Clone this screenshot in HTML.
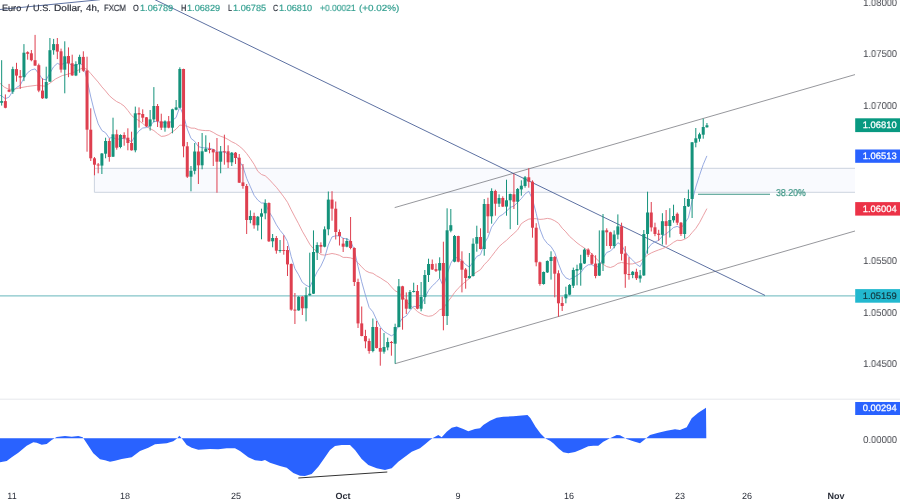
<!DOCTYPE html>
<html><head><meta charset="utf-8"><title>EURUSD</title>
<style>
html,body{margin:0;padding:0;background:#fff;}
body{width:900px;height:503px;position:relative;overflow:hidden;font-family:"Liberation Sans",sans-serif;}
svg{position:absolute;left:0;top:0;filter:blur(0.3px);}
.t,.ax,.pl,.dt,.fib{will-change:transform;text-rendering:geometricPrecision;}
.t{position:absolute;top:2.1px;-webkit-text-stroke:0.18px currentColor;transform-origin:0 0;font-size:9.0px;line-height:12px;color:#2c303b;white-space:nowrap;}
.t.v{color:#339f90;}

.ax{position:absolute;right:3.2px;font-size:10px;line-height:12px;height:12px;color:#42444b;text-align:right;margin-top:-4.7px;transform:scaleX(0.94);transform-origin:100% 50%;}
.pl{position:absolute;left:855px;width:45px;height:14px;margin-top:-7px;font-size:9.35px;line-height:13.6px;font-weight:normal;-webkit-text-stroke:0.25px currentColor;text-align:right;padding-right:3.4px;box-sizing:border-box;}
.pl span{display:inline-block;transform:scaleX(1);transform-origin:100% 50%;}
.dt{position:absolute;top:489.6px;width:40px;margin-left:-20px;text-align:center;font-size:9.0px;line-height:12px;color:#2a2e39;}
.dt.b{font-weight:bold;}
.fib{position:absolute;left:776.2px;top:188.2px;font-size:10px;line-height:12px;color:#35917f;transform:scaleX(0.876);transform-origin:0 0;-webkit-text-stroke:0.2px currentColor;}
</style></head><body>
<svg width="900" height="503" viewBox="0 0 900 503">
<rect x="94.4" y="168.3" width="760.6" height="24" fill="#f9fafe"/>
<path d="M855,168.3 H94.4 V192.3 H855" fill="none" stroke="#c6cfdb" stroke-width="0.9"/>
<line x1="0" y1="295.8" x2="855" y2="295.8" stroke="#84c5c9" stroke-width="1.2"/>
<line x1="394.7" y1="207.6" x2="855" y2="74.6" stroke="#5d5f66" stroke-width="0.65"/>
<line x1="395" y1="363.7" x2="855" y2="231" stroke="#5d5f66" stroke-width="0.65"/>
<line x1="150" y1="-2.7" x2="765" y2="295.4" stroke="#344d8a" stroke-width="0.8"/>
<line x1="0" y1="9.5" x2="100" y2="-0.3" stroke="#344d8a" stroke-width="0.8"/>
<line x1="698" y1="194.2" x2="770" y2="194.2" stroke="#3d9486" stroke-width="1.1"/>
<path d="M0.0,83.3 L4.4,87.2 L8.9,89.4 L14.4,89.1 L20.0,87.8 L27.8,86.4 L36.7,85.3 L44.4,86.1 L48.9,83.9 L55.6,78.9 L62.2,75.6 L68.9,73.9 L75.9,71.5 L79.6,69.4 L83.3,67.6 L87.0,69.4 L90.8,73.6 L94.5,77.9 L98.2,82.1 L101.9,86.9 L105.6,91.0 L109.3,95.6 L113.0,98.9 L116.7,101.6 L120.4,103.4 L124.2,106.1 L127.9,110.5 L131.6,115.5 L135.3,118.5 L139.0,120.6 L142.7,123.5 L146.4,126.5 L150.1,128.6 L153.9,130.6 L157.6,133.7 L161.3,136.4 L165.0,136.0 L168.7,134.6 L172.4,131.9 L176.1,129.1 L179.8,125.1 L183.6,125.4 L187.3,126.3 L191.0,128.1 L194.7,128.2 L198.4,129.7 L202.1,130.3 L205.8,130.6 L209.5,130.6 L213.2,132.4 L217.0,134.7 L220.7,136.3 L224.4,137.5 L228.1,139.5 L231.8,141.8 L235.5,143.5 L239.2,146.1 L242.9,149.2 L246.7,153.6 L250.4,158.7 L254.1,164.3 L257.8,171.3 L261.5,174.5 L265.2,175.8 L268.9,179.1 L272.6,183.2 L276.4,187.3 L280.1,192.0 L283.8,196.9 L287.5,202.3 L291.2,209.8 L294.9,216.9 L298.6,223.8 L302.3,231.2 L306.0,237.6 L309.8,244.3 L313.5,248.8 L317.2,251.7 L320.9,254.6 L324.6,255.1 L328.3,254.3 L332.0,253.5 L335.7,254.2 L339.5,255.3 L343.2,257.4 L346.9,257.4 L350.6,257.9 L354.3,259.3 L358.0,262.8 L361.7,266.9 L365.4,270.6 L369.2,272.5 L372.9,273.3 L376.6,275.8 L380.3,277.8 L384.0,280.3 L387.7,282.6 L391.4,286.9 L395.1,290.8 L398.8,292.7 L402.6,296.1 L406.3,301.3 L410.0,305.2 L413.7,308.0 L417.4,311.5 L421.1,313.9 L424.8,315.5 L428.5,316.3 L432.3,315.7 L436.0,313.2 L439.7,309.7 L443.4,308.5 L447.1,302.7 L450.8,297.9 L454.5,292.6 L458.2,288.3 L462.0,284.6 L465.7,281.5 L469.4,278.4 L473.1,274.4 L476.8,272.0 L480.5,269.6 L484.2,264.6 L487.9,261.0 L491.6,256.3 L495.4,251.3 L499.1,246.6 L502.8,243.3 L506.5,240.3 L510.2,236.7 L513.9,233.4 L517.6,229.9 L521.3,223.7 L525.1,221.1 L528.8,219.1 L532.5,218.7 L536.2,218.7 L539.9,219.4 L543.6,219.1 L547.3,218.4 L551.0,219.0 L554.8,220.8 L558.5,223.3 L562.2,228.2 L565.9,231.9 L569.6,236.4 L573.3,239.6 L577.0,242.9 L580.7,245.6 L584.4,248.0 L588.2,250.9 L591.9,253.8 L595.6,258.0 L599.3,261.7 L603.0,264.2 L606.7,266.6 L610.4,267.5 L614.1,266.2 L617.9,263.4 L621.6,262.5 L625.3,263.2 L629.0,264.0 L632.7,263.9 L636.4,262.7 L640.1,261.3 L643.8,258.4 L647.6,255.0 L651.3,252.9 L655.0,251.3 L658.7,249.9 L662.4,248.6 L666.1,247.2 L669.8,245.1 L673.5,242.3 L677.2,240.3 L681.0,240.5 L684.7,239.2 L688.4,237.0 L692.1,232.6 L695.8,228.4 L699.5,222.7 L703.2,215.7 L706.9,208.6" fill="none" stroke="#e8959b" stroke-width="0.9" stroke-linejoin="round"/>
<path d="M-1.0,94.9 L1.7,96.0 L5.4,98.7 L9.1,97.1 L12.8,90.9 L16.5,87.5 L20.2,85.3 L23.9,78.0 L27.6,72.7 L31.4,69.9 L35.1,68.9 L38.8,73.8 L42.5,79.2 L46.2,79.8 L49.9,73.2 L53.6,66.8 L57.3,63.4 L61.1,64.8 L64.8,62.9 L68.5,63.0 L72.2,65.7 L75.9,65.4 L79.6,63.5 L83.3,65.1 L87.0,79.5 L90.8,97.0 L94.5,112.0 L98.2,123.9 L101.9,130.5 L105.6,132.8 L109.3,138.2 L113.0,137.3 L116.7,139.6 L120.4,138.6 L124.2,138.5 L127.9,139.5 L131.6,141.9 L135.3,135.6 L139.0,130.9 L142.7,128.0 L146.4,127.6 L150.1,125.8 L153.9,121.4 L157.6,121.4 L161.3,122.8 L165.0,122.4 L168.7,123.6 L172.4,120.4 L176.1,117.5 L179.8,106.8 L183.6,115.5 L187.3,129.1 L191.0,138.4 L194.7,141.3 L198.4,146.6 L202.1,147.7 L205.8,147.9 L209.5,148.4 L213.2,149.3 L217.0,152.0 L220.7,151.9 L224.4,151.9 L228.1,154.2 L231.8,153.9 L235.5,154.8 L239.2,161.0 L242.9,166.6 L246.7,178.4 L250.4,186.8 L254.1,195.3 L257.8,200.1 L261.5,203.0 L265.2,203.0 L268.9,211.5 L272.6,217.4 L276.4,224.8 L280.1,230.4 L283.8,234.9 L287.5,241.5 L291.2,256.6 L294.9,268.6 L298.6,274.8 L302.3,282.3 L306.0,285.2 L309.8,287.1 L313.5,279.3 L317.2,271.7 L320.9,266.1 L324.6,257.9 L328.3,245.0 L332.0,236.9 L335.7,235.8 L339.5,235.9 L343.2,238.3 L346.9,238.9 L350.6,240.9 L354.3,250.0 L358.0,266.3 L361.7,281.8 L365.4,295.0 L369.2,307.5 L372.9,311.8 L376.6,319.9 L380.3,326.9 L384.0,331.4 L387.7,333.7 L391.4,335.8 L395.1,333.8 L398.8,323.3 L402.6,318.0 L406.3,315.9 L410.0,310.6 L413.7,306.3 L417.4,306.8 L421.1,304.6 L424.8,298.0 L428.5,290.5 L432.3,285.8 L436.0,282.5 L439.7,278.2 L443.4,286.6 L447.1,274.1 L450.8,263.2 L454.5,257.2 L458.2,258.2 L462.0,260.7 L465.7,264.6 L469.4,267.1 L473.1,261.9 L476.8,256.4 L480.5,254.7 L484.2,243.5 L487.9,237.4 L491.6,227.1 L495.4,221.9 L499.1,216.6 L502.8,214.4 L506.5,211.2 L510.2,207.4 L513.9,206.1 L517.6,202.3 L521.3,198.6 L525.1,193.9 L528.8,191.2 L532.5,199.3 L536.2,213.3 L539.9,229.0 L543.6,238.6 L547.3,243.5 L551.0,246.5 L554.8,252.6 L558.5,263.8 L562.2,273.2 L565.9,277.9 L569.6,279.5 L573.3,277.4 L577.0,275.5 L580.7,272.8 L584.4,267.6 L588.2,264.8 L591.9,264.6 L595.6,267.1 L599.3,266.3 L603.0,258.3 L606.7,252.5 L610.4,251.1 L614.1,247.4 L617.9,242.7 L621.6,245.2 L625.3,251.6 L629.0,256.8 L632.7,260.2 L636.4,264.2 L640.1,266.7 L643.8,259.4 L647.6,249.0 L651.3,244.2 L655.0,241.9 L658.7,240.4 L662.4,236.1 L666.1,233.9 L669.8,230.8 L673.5,227.5 L677.2,226.4 L681.0,228.1 L684.7,223.2 L688.4,217.8 L692.1,201.0 L695.8,187.1 L699.5,175.4 L703.2,164.6 L706.9,155.9" fill="none" stroke="#8ca1de" stroke-width="0.9" stroke-linejoin="round"/>
<line x1="1.66" y1="60.2" x2="1.66" y2="105.6" stroke="#14927b" stroke-width="1"/>
<rect x="0.16" y="101.1" width="3" height="1.7" fill="#14927b"/>
<line x1="5.38" y1="94.4" x2="5.38" y2="108.3" stroke="#de3f4f" stroke-width="1"/>
<rect x="3.88" y="101.1" width="3" height="6.7" fill="#de3f4f"/>
<line x1="9.09" y1="83.9" x2="9.09" y2="92.2" stroke="#de3f4f" stroke-width="1"/>
<rect x="7.59" y="90.0" width="3" height="1.7" fill="#de3f4f"/>
<line x1="12.80" y1="66.7" x2="12.80" y2="93.9" stroke="#14927b" stroke-width="1"/>
<rect x="11.30" y="69.1" width="3" height="22.6" fill="#14927b"/>
<line x1="16.51" y1="62.8" x2="16.51" y2="81.7" stroke="#de3f4f" stroke-width="1"/>
<rect x="15.01" y="69.1" width="3" height="6.5" fill="#de3f4f"/>
<line x1="20.22" y1="70.0" x2="20.22" y2="88.9" stroke="#de3f4f" stroke-width="1"/>
<rect x="18.72" y="76.1" width="3" height="1.5" fill="#de3f4f"/>
<line x1="23.94" y1="44.1" x2="23.94" y2="81.1" stroke="#14927b" stroke-width="1"/>
<rect x="22.44" y="52.7" width="3" height="24.5" fill="#14927b"/>
<line x1="27.65" y1="51.3" x2="27.65" y2="59.7" stroke="#de3f4f" stroke-width="1"/>
<rect x="26.15" y="52.2" width="3" height="1.6" fill="#de3f4f"/>
<line x1="31.36" y1="50.0" x2="31.36" y2="61.3" stroke="#de3f4f" stroke-width="1"/>
<rect x="29.86" y="53.3" width="3" height="6.9" fill="#de3f4f"/>
<line x1="35.07" y1="34.9" x2="35.07" y2="65.8" stroke="#de3f4f" stroke-width="1"/>
<rect x="33.57" y="60.2" width="3" height="5.4" fill="#de3f4f"/>
<line x1="38.78" y1="63.6" x2="38.78" y2="92.2" stroke="#de3f4f" stroke-width="1"/>
<rect x="37.28" y="65.2" width="3" height="25.4" fill="#de3f4f"/>
<line x1="42.50" y1="78.3" x2="42.50" y2="98.9" stroke="#de3f4f" stroke-width="1"/>
<rect x="41.00" y="90.6" width="3" height="7.7" fill="#de3f4f"/>
<line x1="46.21" y1="66.7" x2="46.21" y2="98.9" stroke="#14927b" stroke-width="1"/>
<rect x="44.71" y="82.0" width="3" height="16.3" fill="#14927b"/>
<line x1="49.92" y1="38.0" x2="49.92" y2="81.7" stroke="#14927b" stroke-width="1"/>
<rect x="48.42" y="50.2" width="3" height="31.5" fill="#14927b"/>
<line x1="53.63" y1="38.9" x2="53.63" y2="54.7" stroke="#14927b" stroke-width="1"/>
<rect x="52.13" y="44.1" width="3" height="6.1" fill="#14927b"/>
<line x1="57.34" y1="38.0" x2="57.34" y2="59.1" stroke="#de3f4f" stroke-width="1"/>
<rect x="55.84" y="44.1" width="3" height="7.5" fill="#de3f4f"/>
<line x1="61.06" y1="48.6" x2="61.06" y2="72.6" stroke="#de3f4f" stroke-width="1"/>
<rect x="59.56" y="51.3" width="3" height="18.3" fill="#de3f4f"/>
<line x1="64.77" y1="41.3" x2="64.77" y2="93.3" stroke="#14927b" stroke-width="1"/>
<rect x="63.27" y="56.3" width="3" height="13.4" fill="#14927b"/>
<line x1="68.48" y1="47.4" x2="68.48" y2="77.2" stroke="#de3f4f" stroke-width="1"/>
<rect x="66.98" y="56.0" width="3" height="7.3" fill="#de3f4f"/>
<line x1="72.19" y1="54.7" x2="72.19" y2="75.8" stroke="#de3f4f" stroke-width="1"/>
<rect x="70.69" y="63.3" width="3" height="12.1" fill="#de3f4f"/>
<line x1="75.90" y1="61.3" x2="75.90" y2="76.1" stroke="#14927b" stroke-width="1"/>
<rect x="74.40" y="64.1" width="3" height="11.4" fill="#14927b"/>
<line x1="79.62" y1="54.7" x2="79.62" y2="72.8" stroke="#14927b" stroke-width="1"/>
<rect x="78.12" y="56.9" width="3" height="7.2" fill="#14927b"/>
<line x1="83.33" y1="51.3" x2="83.33" y2="71.9" stroke="#de3f4f" stroke-width="1"/>
<rect x="81.83" y="56.9" width="3" height="13.8" fill="#de3f4f"/>
<line x1="87.04" y1="56.7" x2="87.04" y2="151.7" stroke="#de3f4f" stroke-width="1"/>
<rect x="85.54" y="70.5" width="3" height="59.2" fill="#de3f4f"/>
<line x1="90.75" y1="108.3" x2="90.75" y2="161.0" stroke="#de3f4f" stroke-width="1"/>
<rect x="89.25" y="129.7" width="3" height="28.6" fill="#de3f4f"/>
<line x1="94.46" y1="157.0" x2="94.46" y2="175.3" stroke="#de3f4f" stroke-width="1"/>
<rect x="92.96" y="158.3" width="3" height="6.4" fill="#de3f4f"/>
<line x1="98.18" y1="163.0" x2="98.18" y2="173.3" stroke="#de3f4f" stroke-width="1"/>
<rect x="96.68" y="164.5" width="3" height="1.0" fill="#de3f4f"/>
<line x1="101.89" y1="153.0" x2="101.89" y2="174.0" stroke="#14927b" stroke-width="1"/>
<rect x="100.39" y="153.5" width="3" height="12.1" fill="#14927b"/>
<line x1="105.60" y1="137.7" x2="105.60" y2="158.3" stroke="#14927b" stroke-width="1"/>
<rect x="104.10" y="141.0" width="3" height="12.7" fill="#14927b"/>
<line x1="109.31" y1="138.3" x2="109.31" y2="161.7" stroke="#de3f4f" stroke-width="1"/>
<rect x="107.81" y="141.0" width="3" height="16.0" fill="#de3f4f"/>
<line x1="113.02" y1="117.7" x2="113.02" y2="157.0" stroke="#14927b" stroke-width="1"/>
<rect x="111.52" y="134.3" width="3" height="22.4" fill="#14927b"/>
<line x1="116.74" y1="129.7" x2="116.74" y2="149.7" stroke="#de3f4f" stroke-width="1"/>
<rect x="115.24" y="134.3" width="3" height="13.4" fill="#de3f4f"/>
<line x1="120.45" y1="134.3" x2="120.45" y2="148.3" stroke="#14927b" stroke-width="1"/>
<rect x="118.95" y="135.0" width="3" height="12.0" fill="#14927b"/>
<line x1="124.16" y1="132.3" x2="124.16" y2="145.7" stroke="#de3f4f" stroke-width="1"/>
<rect x="122.66" y="135.0" width="3" height="3.3" fill="#de3f4f"/>
<line x1="127.87" y1="128.3" x2="127.87" y2="150.3" stroke="#de3f4f" stroke-width="1"/>
<rect x="126.37" y="137.7" width="3" height="5.3" fill="#de3f4f"/>
<line x1="131.58" y1="131.7" x2="131.58" y2="150.6" stroke="#de3f4f" stroke-width="1"/>
<rect x="130.08" y="143.0" width="3" height="7.3" fill="#de3f4f"/>
<line x1="135.30" y1="106.6" x2="135.30" y2="152.3" stroke="#14927b" stroke-width="1"/>
<rect x="133.80" y="113.3" width="3" height="37.0" fill="#14927b"/>
<line x1="139.01" y1="107.4" x2="139.01" y2="127.7" stroke="#de3f4f" stroke-width="1"/>
<rect x="137.51" y="113.0" width="3" height="1.6" fill="#de3f4f"/>
<line x1="142.72" y1="109.3" x2="142.72" y2="122.3" stroke="#de3f4f" stroke-width="1"/>
<rect x="141.22" y="114.0" width="3" height="3.7" fill="#de3f4f"/>
<line x1="146.43" y1="117.0" x2="146.43" y2="127.0" stroke="#de3f4f" stroke-width="1"/>
<rect x="144.93" y="117.3" width="3" height="9.0" fill="#de3f4f"/>
<line x1="150.14" y1="110.0" x2="150.14" y2="130.6" stroke="#14927b" stroke-width="1"/>
<rect x="148.64" y="119.4" width="3" height="6.9" fill="#14927b"/>
<line x1="153.86" y1="87.1" x2="153.86" y2="122.3" stroke="#14927b" stroke-width="1"/>
<rect x="152.36" y="106.0" width="3" height="13.4" fill="#14927b"/>
<line x1="157.57" y1="104.0" x2="157.57" y2="127.0" stroke="#de3f4f" stroke-width="1"/>
<rect x="156.07" y="106.0" width="3" height="15.3" fill="#de3f4f"/>
<line x1="161.28" y1="113.7" x2="161.28" y2="130.0" stroke="#de3f4f" stroke-width="1"/>
<rect x="159.78" y="121.3" width="3" height="6.4" fill="#de3f4f"/>
<line x1="164.99" y1="120.3" x2="164.99" y2="131.7" stroke="#14927b" stroke-width="1"/>
<rect x="163.49" y="121.3" width="3" height="6.4" fill="#14927b"/>
<line x1="168.70" y1="116.0" x2="168.70" y2="128.3" stroke="#de3f4f" stroke-width="1"/>
<rect x="167.20" y="121.3" width="3" height="6.4" fill="#de3f4f"/>
<line x1="172.42" y1="108.7" x2="172.42" y2="133.3" stroke="#14927b" stroke-width="1"/>
<rect x="170.92" y="109.3" width="3" height="18.4" fill="#14927b"/>
<line x1="176.13" y1="100.0" x2="176.13" y2="110.3" stroke="#14927b" stroke-width="1"/>
<rect x="174.63" y="107.4" width="3" height="2.3" fill="#14927b"/>
<line x1="179.84" y1="67.3" x2="179.84" y2="108.0" stroke="#14927b" stroke-width="1"/>
<rect x="178.34" y="69.0" width="3" height="38.7" fill="#14927b"/>
<line x1="183.55" y1="68.7" x2="183.55" y2="157.3" stroke="#de3f4f" stroke-width="1"/>
<rect x="182.05" y="69.0" width="3" height="77.3" fill="#de3f4f"/>
<line x1="187.26" y1="142.0" x2="187.26" y2="178.0" stroke="#de3f4f" stroke-width="1"/>
<rect x="185.76" y="146.3" width="3" height="30.4" fill="#de3f4f"/>
<line x1="190.98" y1="166.0" x2="190.98" y2="191.3" stroke="#14927b" stroke-width="1"/>
<rect x="189.48" y="170.8" width="3" height="5.9" fill="#14927b"/>
<line x1="194.69" y1="143.0" x2="194.69" y2="174.3" stroke="#14927b" stroke-width="1"/>
<rect x="193.19" y="151.5" width="3" height="19.3" fill="#14927b"/>
<line x1="198.40" y1="142.0" x2="198.40" y2="184.0" stroke="#de3f4f" stroke-width="1"/>
<rect x="196.90" y="151.5" width="3" height="13.8" fill="#de3f4f"/>
<line x1="202.11" y1="133.0" x2="202.11" y2="169.3" stroke="#14927b" stroke-width="1"/>
<rect x="200.61" y="151.3" width="3" height="14.0" fill="#14927b"/>
<line x1="205.82" y1="135.3" x2="205.82" y2="152.0" stroke="#14927b" stroke-width="1"/>
<rect x="204.32" y="148.7" width="3" height="2.9" fill="#14927b"/>
<line x1="209.54" y1="142.7" x2="209.54" y2="153.3" stroke="#de3f4f" stroke-width="1"/>
<rect x="208.04" y="148.7" width="3" height="1.3" fill="#de3f4f"/>
<line x1="213.25" y1="148.9" x2="213.25" y2="166.0" stroke="#de3f4f" stroke-width="1"/>
<rect x="211.75" y="149.3" width="3" height="3.1" fill="#de3f4f"/>
<line x1="216.96" y1="138.0" x2="216.96" y2="192.7" stroke="#de3f4f" stroke-width="1"/>
<rect x="215.46" y="152.0" width="3" height="9.7" fill="#de3f4f"/>
<line x1="220.67" y1="146.0" x2="220.67" y2="173.3" stroke="#14927b" stroke-width="1"/>
<rect x="219.17" y="151.6" width="3" height="10.1" fill="#14927b"/>
<line x1="224.38" y1="134.7" x2="224.38" y2="164.7" stroke="#de3f4f" stroke-width="1"/>
<rect x="222.88" y="151.3" width="3" height="1.0" fill="#de3f4f"/>
<line x1="228.10" y1="145.3" x2="228.10" y2="168.0" stroke="#de3f4f" stroke-width="1"/>
<rect x="226.60" y="151.3" width="3" height="11.0" fill="#de3f4f"/>
<line x1="231.81" y1="152.0" x2="231.81" y2="166.0" stroke="#14927b" stroke-width="1"/>
<rect x="230.31" y="152.7" width="3" height="9.6" fill="#14927b"/>
<line x1="235.52" y1="152.0" x2="235.52" y2="164.0" stroke="#de3f4f" stroke-width="1"/>
<rect x="234.02" y="152.7" width="3" height="5.3" fill="#de3f4f"/>
<line x1="239.23" y1="154.0" x2="239.23" y2="183.0" stroke="#de3f4f" stroke-width="1"/>
<rect x="237.73" y="157.7" width="3" height="25.0" fill="#de3f4f"/>
<line x1="242.94" y1="164.0" x2="242.94" y2="188.7" stroke="#de3f4f" stroke-width="1"/>
<rect x="241.44" y="182.4" width="3" height="3.6" fill="#de3f4f"/>
<line x1="246.66" y1="184.0" x2="246.66" y2="234.0" stroke="#de3f4f" stroke-width="1"/>
<rect x="245.16" y="186.0" width="3" height="34.0" fill="#de3f4f"/>
<line x1="250.37" y1="210.4" x2="250.37" y2="223.3" stroke="#14927b" stroke-width="1"/>
<rect x="248.87" y="216.0" width="3" height="4.0" fill="#14927b"/>
<line x1="254.08" y1="212.7" x2="254.08" y2="228.7" stroke="#de3f4f" stroke-width="1"/>
<rect x="252.58" y="216.0" width="3" height="9.3" fill="#de3f4f"/>
<line x1="257.79" y1="216.0" x2="257.79" y2="230.7" stroke="#14927b" stroke-width="1"/>
<rect x="256.29" y="216.7" width="3" height="8.6" fill="#14927b"/>
<line x1="261.50" y1="208.7" x2="261.50" y2="239.3" stroke="#14927b" stroke-width="1"/>
<rect x="260.00" y="213.3" width="3" height="3.4" fill="#14927b"/>
<line x1="265.22" y1="199.3" x2="265.22" y2="219.3" stroke="#14927b" stroke-width="1"/>
<rect x="263.72" y="203.0" width="3" height="10.3" fill="#14927b"/>
<line x1="268.93" y1="202.4" x2="268.93" y2="242.0" stroke="#de3f4f" stroke-width="1"/>
<rect x="267.43" y="203.0" width="3" height="38.3" fill="#de3f4f"/>
<line x1="272.64" y1="234.0" x2="272.64" y2="247.3" stroke="#14927b" stroke-width="1"/>
<rect x="271.14" y="238.0" width="3" height="3.3" fill="#14927b"/>
<line x1="276.35" y1="236.0" x2="276.35" y2="253.7" stroke="#de3f4f" stroke-width="1"/>
<rect x="274.85" y="238.0" width="3" height="12.7" fill="#de3f4f"/>
<line x1="280.06" y1="240.0" x2="280.06" y2="252.7" stroke="#14927b" stroke-width="1"/>
<rect x="278.56" y="250.0" width="3" height="1.0" fill="#14927b"/>
<line x1="283.78" y1="235.3" x2="283.78" y2="254.7" stroke="#de3f4f" stroke-width="1"/>
<rect x="282.28" y="250.0" width="3" height="1.0" fill="#de3f4f"/>
<line x1="287.49" y1="246.0" x2="287.49" y2="276.0" stroke="#de3f4f" stroke-width="1"/>
<rect x="285.99" y="250.0" width="3" height="14.4" fill="#de3f4f"/>
<line x1="291.20" y1="263.5" x2="291.20" y2="310.7" stroke="#de3f4f" stroke-width="1"/>
<rect x="289.70" y="264.0" width="3" height="45.6" fill="#de3f4f"/>
<line x1="294.91" y1="293.0" x2="294.91" y2="324.0" stroke="#de3f4f" stroke-width="1"/>
<rect x="293.41" y="309.6" width="3" height="1.0" fill="#de3f4f"/>
<line x1="298.62" y1="296.3" x2="298.62" y2="310.7" stroke="#14927b" stroke-width="1"/>
<rect x="297.12" y="296.7" width="3" height="13.7" fill="#14927b"/>
<line x1="302.34" y1="296.0" x2="302.34" y2="315.0" stroke="#de3f4f" stroke-width="1"/>
<rect x="300.84" y="296.7" width="3" height="11.6" fill="#de3f4f"/>
<line x1="306.05" y1="287.3" x2="306.05" y2="321.3" stroke="#14927b" stroke-width="1"/>
<rect x="304.55" y="295.3" width="3" height="13.0" fill="#14927b"/>
<line x1="309.76" y1="252.7" x2="309.76" y2="295.7" stroke="#14927b" stroke-width="1"/>
<rect x="308.26" y="293.7" width="3" height="1.6" fill="#14927b"/>
<line x1="313.47" y1="230.4" x2="313.47" y2="294.0" stroke="#14927b" stroke-width="1"/>
<rect x="311.97" y="252.0" width="3" height="41.7" fill="#14927b"/>
<line x1="317.18" y1="242.3" x2="317.18" y2="260.0" stroke="#14927b" stroke-width="1"/>
<rect x="315.68" y="245.0" width="3" height="7.7" fill="#14927b"/>
<line x1="320.90" y1="242.3" x2="320.90" y2="253.3" stroke="#de3f4f" stroke-width="1"/>
<rect x="319.40" y="245.0" width="3" height="1.7" fill="#de3f4f"/>
<line x1="324.61" y1="226.4" x2="324.61" y2="247.3" stroke="#14927b" stroke-width="1"/>
<rect x="323.11" y="229.3" width="3" height="17.4" fill="#14927b"/>
<line x1="328.32" y1="191.5" x2="328.32" y2="235.3" stroke="#14927b" stroke-width="1"/>
<rect x="326.82" y="199.6" width="3" height="29.7" fill="#14927b"/>
<line x1="332.03" y1="191.2" x2="332.03" y2="220.7" stroke="#de3f4f" stroke-width="1"/>
<rect x="330.53" y="199.6" width="3" height="9.1" fill="#de3f4f"/>
<line x1="335.74" y1="201.5" x2="335.74" y2="239.5" stroke="#de3f4f" stroke-width="1"/>
<rect x="334.24" y="208.7" width="3" height="23.3" fill="#de3f4f"/>
<line x1="339.46" y1="229.5" x2="339.46" y2="245.5" stroke="#de3f4f" stroke-width="1"/>
<rect x="337.96" y="232.0" width="3" height="4.0" fill="#de3f4f"/>
<line x1="343.17" y1="238.0" x2="343.17" y2="252.0" stroke="#de3f4f" stroke-width="1"/>
<rect x="341.67" y="243.6" width="3" height="3.1" fill="#de3f4f"/>
<line x1="346.88" y1="238.3" x2="346.88" y2="247.3" stroke="#14927b" stroke-width="1"/>
<rect x="345.38" y="241.0" width="3" height="5.7" fill="#14927b"/>
<line x1="350.59" y1="217.0" x2="350.59" y2="249.3" stroke="#de3f4f" stroke-width="1"/>
<rect x="349.09" y="241.0" width="3" height="7.0" fill="#de3f4f"/>
<line x1="354.30" y1="247.3" x2="354.30" y2="286.0" stroke="#de3f4f" stroke-width="1"/>
<rect x="352.80" y="248.0" width="3" height="34.0" fill="#de3f4f"/>
<line x1="358.02" y1="278.7" x2="358.02" y2="328.0" stroke="#de3f4f" stroke-width="1"/>
<rect x="356.52" y="282.0" width="3" height="41.4" fill="#de3f4f"/>
<line x1="361.73" y1="306.5" x2="361.73" y2="336.3" stroke="#de3f4f" stroke-width="1"/>
<rect x="360.23" y="323.4" width="3" height="12.6" fill="#de3f4f"/>
<line x1="365.44" y1="329.8" x2="365.44" y2="348.3" stroke="#de3f4f" stroke-width="1"/>
<rect x="363.94" y="336.0" width="3" height="5.3" fill="#de3f4f"/>
<line x1="369.15" y1="338.5" x2="369.15" y2="353.7" stroke="#de3f4f" stroke-width="1"/>
<rect x="367.65" y="341.0" width="3" height="10.0" fill="#de3f4f"/>
<line x1="372.86" y1="318.5" x2="372.86" y2="352.3" stroke="#14927b" stroke-width="1"/>
<rect x="371.36" y="327.0" width="3" height="24.0" fill="#14927b"/>
<line x1="376.58" y1="321.0" x2="376.58" y2="348.5" stroke="#de3f4f" stroke-width="1"/>
<rect x="375.08" y="327.0" width="3" height="21.0" fill="#de3f4f"/>
<line x1="380.29" y1="328.0" x2="380.29" y2="365.7" stroke="#de3f4f" stroke-width="1"/>
<rect x="378.79" y="348.0" width="3" height="3.7" fill="#de3f4f"/>
<line x1="384.00" y1="333.0" x2="384.00" y2="353.7" stroke="#14927b" stroke-width="1"/>
<rect x="382.50" y="347.0" width="3" height="4.7" fill="#14927b"/>
<line x1="387.71" y1="337.7" x2="387.71" y2="350.3" stroke="#14927b" stroke-width="1"/>
<rect x="386.21" y="342.0" width="3" height="5.4" fill="#14927b"/>
<line x1="391.42" y1="341.0" x2="391.42" y2="355.7" stroke="#de3f4f" stroke-width="1"/>
<rect x="389.92" y="342.0" width="3" height="1.0" fill="#de3f4f"/>
<line x1="395.14" y1="323.7" x2="395.14" y2="363.7" stroke="#14927b" stroke-width="1"/>
<rect x="393.64" y="327.0" width="3" height="16.7" fill="#14927b"/>
<line x1="398.85" y1="279.0" x2="398.85" y2="327.5" stroke="#14927b" stroke-width="1"/>
<rect x="397.35" y="286.3" width="3" height="40.7" fill="#14927b"/>
<line x1="402.56" y1="285.8" x2="402.56" y2="329.7" stroke="#de3f4f" stroke-width="1"/>
<rect x="401.06" y="286.3" width="3" height="13.3" fill="#de3f4f"/>
<line x1="406.27" y1="292.4" x2="406.27" y2="314.0" stroke="#de3f4f" stroke-width="1"/>
<rect x="404.77" y="299.6" width="3" height="9.1" fill="#de3f4f"/>
<line x1="409.98" y1="290.0" x2="409.98" y2="309.3" stroke="#14927b" stroke-width="1"/>
<rect x="408.48" y="292.0" width="3" height="16.7" fill="#14927b"/>
<line x1="413.70" y1="282.7" x2="413.70" y2="292.5" stroke="#14927b" stroke-width="1"/>
<rect x="412.20" y="291.0" width="3" height="1.0" fill="#14927b"/>
<line x1="417.41" y1="285.0" x2="417.41" y2="309.3" stroke="#de3f4f" stroke-width="1"/>
<rect x="415.91" y="291.0" width="3" height="17.7" fill="#de3f4f"/>
<line x1="421.12" y1="282.0" x2="421.12" y2="311.3" stroke="#14927b" stroke-width="1"/>
<rect x="419.62" y="297.0" width="3" height="11.7" fill="#14927b"/>
<line x1="424.83" y1="270.0" x2="424.83" y2="304.0" stroke="#14927b" stroke-width="1"/>
<rect x="423.33" y="275.0" width="3" height="22.0" fill="#14927b"/>
<line x1="428.54" y1="258.7" x2="428.54" y2="282.0" stroke="#14927b" stroke-width="1"/>
<rect x="427.04" y="264.0" width="3" height="11.0" fill="#14927b"/>
<line x1="432.26" y1="259.5" x2="432.26" y2="270.0" stroke="#de3f4f" stroke-width="1"/>
<rect x="430.76" y="264.0" width="3" height="5.5" fill="#de3f4f"/>
<line x1="435.97" y1="263.5" x2="435.97" y2="272.0" stroke="#de3f4f" stroke-width="1"/>
<rect x="434.47" y="269.2" width="3" height="1.6" fill="#de3f4f"/>
<line x1="439.68" y1="257.3" x2="439.68" y2="278.5" stroke="#14927b" stroke-width="1"/>
<rect x="438.18" y="263.0" width="3" height="7.5" fill="#14927b"/>
<line x1="443.39" y1="241.7" x2="443.39" y2="330.3" stroke="#de3f4f" stroke-width="1"/>
<rect x="441.89" y="263.0" width="3" height="53.0" fill="#de3f4f"/>
<line x1="447.10" y1="208.3" x2="447.10" y2="325.0" stroke="#14927b" stroke-width="1"/>
<rect x="445.60" y="230.3" width="3" height="85.7" fill="#14927b"/>
<line x1="450.82" y1="209.0" x2="450.82" y2="232.3" stroke="#14927b" stroke-width="1"/>
<rect x="449.32" y="225.2" width="3" height="5.5" fill="#14927b"/>
<line x1="454.53" y1="235.0" x2="454.53" y2="262.3" stroke="#14927b" stroke-width="1"/>
<rect x="453.03" y="236.0" width="3" height="25.7" fill="#14927b"/>
<line x1="458.24" y1="235.7" x2="458.24" y2="262.3" stroke="#de3f4f" stroke-width="1"/>
<rect x="456.74" y="236.0" width="3" height="25.7" fill="#de3f4f"/>
<line x1="461.95" y1="251.3" x2="461.95" y2="292.4" stroke="#de3f4f" stroke-width="1"/>
<rect x="460.45" y="260.7" width="3" height="9.0" fill="#de3f4f"/>
<line x1="465.66" y1="268.0" x2="465.66" y2="288.7" stroke="#de3f4f" stroke-width="1"/>
<rect x="464.16" y="269.5" width="3" height="8.5" fill="#de3f4f"/>
<line x1="469.38" y1="253.0" x2="469.38" y2="278.6" stroke="#14927b" stroke-width="1"/>
<rect x="467.88" y="276.0" width="3" height="2.2" fill="#14927b"/>
<line x1="473.09" y1="238.3" x2="473.09" y2="276.6" stroke="#14927b" stroke-width="1"/>
<rect x="471.59" y="243.7" width="3" height="32.3" fill="#14927b"/>
<line x1="476.80" y1="225.7" x2="476.80" y2="251.7" stroke="#14927b" stroke-width="1"/>
<rect x="475.30" y="237.0" width="3" height="6.7" fill="#14927b"/>
<line x1="480.51" y1="228.3" x2="480.51" y2="249.4" stroke="#de3f4f" stroke-width="1"/>
<rect x="479.01" y="237.0" width="3" height="12.0" fill="#de3f4f"/>
<line x1="484.22" y1="199.0" x2="484.22" y2="255.7" stroke="#14927b" stroke-width="1"/>
<rect x="482.72" y="204.0" width="3" height="45.0" fill="#14927b"/>
<line x1="487.94" y1="197.7" x2="487.94" y2="233.0" stroke="#de3f4f" stroke-width="1"/>
<rect x="486.44" y="204.0" width="3" height="12.3" fill="#de3f4f"/>
<line x1="491.65" y1="188.3" x2="491.65" y2="223.7" stroke="#14927b" stroke-width="1"/>
<rect x="490.15" y="191.0" width="3" height="25.3" fill="#14927b"/>
<line x1="495.36" y1="189.7" x2="495.36" y2="215.7" stroke="#de3f4f" stroke-width="1"/>
<rect x="493.86" y="191.0" width="3" height="12.7" fill="#de3f4f"/>
<line x1="499.07" y1="194.3" x2="499.07" y2="207.0" stroke="#14927b" stroke-width="1"/>
<rect x="497.57" y="198.0" width="3" height="5.7" fill="#14927b"/>
<line x1="502.78" y1="196.3" x2="502.78" y2="207.0" stroke="#de3f4f" stroke-width="1"/>
<rect x="501.28" y="198.0" width="3" height="8.6" fill="#de3f4f"/>
<line x1="506.50" y1="179.7" x2="506.50" y2="215.7" stroke="#14927b" stroke-width="1"/>
<rect x="505.00" y="200.3" width="3" height="6.3" fill="#14927b"/>
<line x1="510.21" y1="193.6" x2="510.21" y2="229.2" stroke="#14927b" stroke-width="1"/>
<rect x="508.71" y="194.0" width="3" height="6.3" fill="#14927b"/>
<line x1="513.92" y1="173.7" x2="513.92" y2="209.0" stroke="#de3f4f" stroke-width="1"/>
<rect x="512.42" y="194.3" width="3" height="7.4" fill="#de3f4f"/>
<line x1="517.63" y1="188.0" x2="517.63" y2="225.0" stroke="#14927b" stroke-width="1"/>
<rect x="516.13" y="189.0" width="3" height="12.7" fill="#14927b"/>
<line x1="521.34" y1="180.3" x2="521.34" y2="195.7" stroke="#14927b" stroke-width="1"/>
<rect x="519.84" y="185.7" width="3" height="3.7" fill="#14927b"/>
<line x1="525.06" y1="176.0" x2="525.06" y2="187.7" stroke="#14927b" stroke-width="1"/>
<rect x="523.56" y="177.3" width="3" height="8.7" fill="#14927b"/>
<line x1="528.77" y1="168.3" x2="528.77" y2="187.7" stroke="#de3f4f" stroke-width="1"/>
<rect x="527.27" y="177.3" width="3" height="4.4" fill="#de3f4f"/>
<line x1="532.48" y1="180.3" x2="532.48" y2="237.7" stroke="#de3f4f" stroke-width="1"/>
<rect x="530.98" y="181.7" width="3" height="46.0" fill="#de3f4f"/>
<line x1="536.19" y1="223.2" x2="536.19" y2="266.3" stroke="#de3f4f" stroke-width="1"/>
<rect x="534.69" y="227.7" width="3" height="34.6" fill="#de3f4f"/>
<line x1="539.90" y1="261.6" x2="539.90" y2="285.7" stroke="#de3f4f" stroke-width="1"/>
<rect x="538.40" y="262.3" width="3" height="21.7" fill="#de3f4f"/>
<line x1="543.62" y1="271.5" x2="543.62" y2="284.7" stroke="#14927b" stroke-width="1"/>
<rect x="542.12" y="272.0" width="3" height="12.0" fill="#14927b"/>
<line x1="547.33" y1="260.4" x2="547.33" y2="273.0" stroke="#14927b" stroke-width="1"/>
<rect x="545.83" y="261.0" width="3" height="11.4" fill="#14927b"/>
<line x1="551.04" y1="251.3" x2="551.04" y2="279.6" stroke="#14927b" stroke-width="1"/>
<rect x="549.54" y="257.0" width="3" height="4.0" fill="#14927b"/>
<line x1="554.75" y1="256.0" x2="554.75" y2="297.3" stroke="#de3f4f" stroke-width="1"/>
<rect x="553.25" y="257.0" width="3" height="16.7" fill="#de3f4f"/>
<line x1="558.46" y1="270.3" x2="558.46" y2="316.7" stroke="#de3f4f" stroke-width="1"/>
<rect x="556.96" y="273.3" width="3" height="30.0" fill="#de3f4f"/>
<line x1="562.18" y1="296.7" x2="562.18" y2="311.0" stroke="#de3f4f" stroke-width="1"/>
<rect x="560.68" y="303.0" width="3" height="3.0" fill="#de3f4f"/>
<line x1="565.89" y1="286.7" x2="565.89" y2="303.3" stroke="#14927b" stroke-width="1"/>
<rect x="564.39" y="294.3" width="3" height="4.0" fill="#14927b"/>
<line x1="569.60" y1="284.0" x2="569.60" y2="295.3" stroke="#14927b" stroke-width="1"/>
<rect x="568.10" y="285.0" width="3" height="9.7" fill="#14927b"/>
<line x1="573.31" y1="267.6" x2="573.31" y2="288.0" stroke="#14927b" stroke-width="1"/>
<rect x="571.81" y="270.0" width="3" height="15.7" fill="#14927b"/>
<line x1="577.02" y1="264.7" x2="577.02" y2="285.3" stroke="#14927b" stroke-width="1"/>
<rect x="575.52" y="269.0" width="3" height="1.7" fill="#14927b"/>
<line x1="580.74" y1="254.8" x2="580.74" y2="285.7" stroke="#14927b" stroke-width="1"/>
<rect x="579.24" y="263.3" width="3" height="6.4" fill="#14927b"/>
<line x1="584.45" y1="248.3" x2="584.45" y2="264.0" stroke="#14927b" stroke-width="1"/>
<rect x="582.95" y="249.6" width="3" height="13.9" fill="#14927b"/>
<line x1="588.16" y1="248.3" x2="588.16" y2="257.0" stroke="#de3f4f" stroke-width="1"/>
<rect x="586.66" y="249.6" width="3" height="5.2" fill="#de3f4f"/>
<line x1="591.87" y1="253.0" x2="591.87" y2="264.7" stroke="#de3f4f" stroke-width="1"/>
<rect x="590.37" y="254.8" width="3" height="9.0" fill="#de3f4f"/>
<line x1="595.58" y1="255.3" x2="595.58" y2="278.3" stroke="#de3f4f" stroke-width="1"/>
<rect x="594.08" y="263.6" width="3" height="12.4" fill="#de3f4f"/>
<line x1="599.30" y1="230.4" x2="599.30" y2="276.0" stroke="#14927b" stroke-width="1"/>
<rect x="597.80" y="263.3" width="3" height="12.3" fill="#14927b"/>
<line x1="603.01" y1="214.0" x2="603.01" y2="271.0" stroke="#14927b" stroke-width="1"/>
<rect x="601.51" y="230.4" width="3" height="33.1" fill="#14927b"/>
<line x1="606.72" y1="228.3" x2="606.72" y2="246.0" stroke="#de3f4f" stroke-width="1"/>
<rect x="605.22" y="230.3" width="3" height="2.0" fill="#de3f4f"/>
<line x1="610.43" y1="231.7" x2="610.43" y2="248.7" stroke="#de3f4f" stroke-width="1"/>
<rect x="608.93" y="232.3" width="3" height="13.7" fill="#de3f4f"/>
<line x1="614.14" y1="230.4" x2="614.14" y2="248.3" stroke="#14927b" stroke-width="1"/>
<rect x="612.64" y="234.5" width="3" height="11.5" fill="#14927b"/>
<line x1="617.86" y1="214.4" x2="617.86" y2="239.3" stroke="#14927b" stroke-width="1"/>
<rect x="616.36" y="226.4" width="3" height="8.2" fill="#14927b"/>
<line x1="621.57" y1="222.7" x2="621.57" y2="260.5" stroke="#de3f4f" stroke-width="1"/>
<rect x="620.07" y="226.3" width="3" height="27.5" fill="#de3f4f"/>
<line x1="625.28" y1="246.2" x2="625.28" y2="287.8" stroke="#de3f4f" stroke-width="1"/>
<rect x="623.78" y="253.5" width="3" height="20.7" fill="#de3f4f"/>
<line x1="628.99" y1="257.2" x2="628.99" y2="279.7" stroke="#de3f4f" stroke-width="1"/>
<rect x="627.49" y="274.0" width="3" height="1.0" fill="#de3f4f"/>
<line x1="632.70" y1="271.0" x2="632.70" y2="278.2" stroke="#14927b" stroke-width="1"/>
<rect x="631.20" y="271.8" width="3" height="3.2" fill="#14927b"/>
<line x1="636.42" y1="268.7" x2="636.42" y2="280.0" stroke="#de3f4f" stroke-width="1"/>
<rect x="634.92" y="271.8" width="3" height="6.4" fill="#de3f4f"/>
<line x1="640.13" y1="270.0" x2="640.13" y2="282.6" stroke="#14927b" stroke-width="1"/>
<rect x="638.63" y="275.4" width="3" height="3.1" fill="#14927b"/>
<line x1="643.84" y1="230.0" x2="643.84" y2="276.0" stroke="#14927b" stroke-width="1"/>
<rect x="642.34" y="234.0" width="3" height="41.4" fill="#14927b"/>
<line x1="647.55" y1="191.7" x2="647.55" y2="253.7" stroke="#14927b" stroke-width="1"/>
<rect x="646.05" y="212.5" width="3" height="21.5" fill="#14927b"/>
<line x1="651.26" y1="202.0" x2="651.26" y2="231.5" stroke="#de3f4f" stroke-width="1"/>
<rect x="649.76" y="212.5" width="3" height="14.9" fill="#de3f4f"/>
<line x1="654.98" y1="222.7" x2="654.98" y2="236.2" stroke="#de3f4f" stroke-width="1"/>
<rect x="653.48" y="227.3" width="3" height="6.7" fill="#de3f4f"/>
<line x1="658.69" y1="229.8" x2="658.69" y2="240.7" stroke="#de3f4f" stroke-width="1"/>
<rect x="657.19" y="233.6" width="3" height="1.3" fill="#de3f4f"/>
<line x1="662.40" y1="213.2" x2="662.40" y2="244.6" stroke="#14927b" stroke-width="1"/>
<rect x="660.90" y="221.2" width="3" height="13.6" fill="#14927b"/>
<line x1="666.11" y1="210.0" x2="666.11" y2="244.7" stroke="#de3f4f" stroke-width="1"/>
<rect x="664.61" y="221.2" width="3" height="4.8" fill="#de3f4f"/>
<line x1="669.82" y1="208.2" x2="669.82" y2="237.5" stroke="#14927b" stroke-width="1"/>
<rect x="668.32" y="220.0" width="3" height="6.0" fill="#14927b"/>
<line x1="673.54" y1="204.7" x2="673.54" y2="222.7" stroke="#14927b" stroke-width="1"/>
<rect x="672.04" y="216.0" width="3" height="4.3" fill="#14927b"/>
<line x1="677.25" y1="212.5" x2="677.25" y2="225.0" stroke="#de3f4f" stroke-width="1"/>
<rect x="675.75" y="213.8" width="3" height="8.9" fill="#de3f4f"/>
<line x1="680.96" y1="222.0" x2="680.96" y2="236.0" stroke="#de3f4f" stroke-width="1"/>
<rect x="679.46" y="222.7" width="3" height="11.3" fill="#de3f4f"/>
<line x1="684.67" y1="198.0" x2="684.67" y2="238.5" stroke="#14927b" stroke-width="1"/>
<rect x="683.17" y="206.0" width="3" height="28.0" fill="#14927b"/>
<line x1="688.38" y1="189.6" x2="688.38" y2="207.0" stroke="#14927b" stroke-width="1"/>
<rect x="686.88" y="199.0" width="3" height="7.4" fill="#14927b"/>
<line x1="692.10" y1="142.0" x2="692.10" y2="218.0" stroke="#14927b" stroke-width="1"/>
<rect x="690.60" y="142.3" width="3" height="56.7" fill="#14927b"/>
<line x1="695.81" y1="128.0" x2="695.81" y2="147.3" stroke="#14927b" stroke-width="1"/>
<rect x="694.31" y="138.3" width="3" height="4.4" fill="#14927b"/>
<line x1="699.52" y1="132.7" x2="699.52" y2="141.7" stroke="#14927b" stroke-width="1"/>
<rect x="698.02" y="134.3" width="3" height="4.4" fill="#14927b"/>
<line x1="703.23" y1="118.7" x2="703.23" y2="138.7" stroke="#14927b" stroke-width="1"/>
<rect x="701.73" y="127.0" width="3" height="7.7" fill="#14927b"/>
<line x1="706.94" y1="123.0" x2="706.94" y2="127.6" stroke="#14927b" stroke-width="1"/>
<rect x="705.44" y="125.3" width="3" height="2.0" fill="#14927b"/>
<path d="M0.0,438.3 L0.0,462.3 L6.7,461.0 L11.7,457.3 L18.3,452.7 L26.7,445.7 L33.3,442.3 L36.7,442.7 L41.7,444.7 L46.7,444.0 L51.7,440.0 L56.7,437.0 L65.0,436.0 L71.7,436.7 L78.3,436.0 L82.7,437.3 L86.7,443.3 L93.3,453.3 L100.0,459.3 L105.0,460.3 L110.0,461.7 L115.0,460.7 L121.7,459.0 L131.7,457.3 L140.0,451.0 L148.3,447.7 L155.0,444.3 L166.7,443.3 L173.3,441.3 L177.3,438.3 L179.3,435.7 L181.7,438.3 L186.7,445.0 L191.7,447.7 L198.3,449.7 L210.0,449.0 L218.3,449.3 L226.7,448.3 L235.0,448.3 L240.0,451.0 L248.3,457.3 L255.0,460.3 L261.7,461.0 L265.0,460.0 L270.0,462.7 L280.0,466.0 L286.7,467.7 L293.3,473.0 L300.0,475.7 L305.0,476.0 L311.7,474.0 L318.3,466.7 L325.0,457.3 L330.0,450.0 L335.0,446.0 L341.7,445.0 L350.0,445.0 L355.0,450.0 L361.7,459.0 L368.3,465.0 L376.7,468.3 L385.0,470.0 L391.7,468.3 L398.3,461.7 L405.0,456.7 L411.7,451.7 L420.0,448.3 L425.0,444.3 L430.0,440.0 L433.3,437.7 L438.3,435.0 L441.7,437.3 L446.7,431.7 L451.7,427.7 L456.7,426.5 L463.3,429.0 L468.3,431.2 L475.0,429.0 L480.0,428.2 L483.3,425.0 L490.0,420.7 L496.7,417.7 L503.3,416.7 L513.3,416.3 L521.7,415.5 L527.5,415.0 L530.5,418.3 L535.5,426.7 L540.5,433.5 L545.5,438.5 L550.0,440.7 L553.3,443.3 L558.3,448.3 L563.3,452.3 L568.3,453.3 L575.0,452.0 L581.7,449.3 L588.3,446.3 L593.3,445.7 L598.3,445.7 L603.3,441.7 L610.0,438.3 L616.7,435.0 L620.0,435.3 L626.7,439.0 L633.3,441.3 L640.0,443.3 L645.0,439.3 L650.0,435.0 L658.3,432.7 L666.7,430.7 L675.0,429.3 L680.0,430.0 L686.7,427.3 L691.7,418.3 L698.3,412.7 L706.0,407.7 L706.3,438.3 Z" fill="#2962ff"/>
<line x1="298.3" y1="478" x2="387.3" y2="472" stroke="#333" stroke-width="1"/>
<line x1="0" y1="399.2" x2="900" y2="399.2" stroke="#e6e8ec" stroke-width="1"/>
<rect x="855.2" y="118.3" width="45" height="13.8" fill="#089981"/>
<rect x="855.2" y="149.5" width="45" height="13.3" fill="#2962ff"/>
<rect x="855.2" y="202.1" width="45" height="13.5" fill="#ec3247"/>
<rect x="855.2" y="289.1" width="45" height="13.6" fill="#22b8cf"/>
<rect x="855.2" y="402.0" width="45" height="13.0" fill="#2962ff"/>
</svg>
<div class="t" style="left:2.4px;transform:scaleX(1.010)">Euro</div><div class="t" style="left:26px;transform:scaleX(1.199)">/</div><div class="t" style="left:33.3px;transform:scaleX(1.017)">U.S.</div><div class="t" style="left:54.4px;transform:scaleX(1.124)">Dollar,</div><div class="t" style="left:85.8px;transform:scaleX(1.079)">4h,</div><div class="t" style="left:103.9px;transform:scaleX(0.859)">FXCM</div><div class="t" style="left:133.1px;transform:scaleX(0.814)">O</div><div class="t v" style="left:140px;transform:scaleX(1.020)">1.06789</div><div class="t" style="left:180.8px;transform:scaleX(0.815)">H</div><div class="t v" style="left:186.8px;transform:scaleX(1.020)">1.06829</div><div class="t" style="left:227.6px;transform:scaleX(0.799)">L</div><div class="t v" style="left:232.8px;transform:scaleX(1.020)">1.06785</div><div class="t" style="left:273px;transform:scaleX(0.768)">C</div><div class="t v" style="left:279px;transform:scaleX(1.020)">1.06810</div><div class="t v" style="left:320.2px;transform:scaleX(0.944)">+0.00021</div><div class="t v" style="left:359.1px;transform:scaleX(1.099)">(+0.02%)</div>
<div class="ax" style="top:2.3px">1.08000</div>
<div class="ax" style="top:53.4px">1.07500</div>
<div class="ax" style="top:105.6px">1.07000</div>
<div class="ax" style="top:260.2px">1.05500</div>
<div class="ax" style="top:312.3px">1.05000</div>
<div class="ax" style="top:364px">1.04500</div>
<div class="ax" style="top:439.2px">0.00000</div>
<div class="pl" style="top:125.9px;color:#fff"><span>1.06810</span></div>
<div class="pl" style="top:156.9px;color:#fff"><span>1.06513</span></div>
<div class="pl" style="top:209.6px;color:#fff"><span>1.06004</span></div>
<div class="pl" style="-webkit-text-stroke:0.2px currentColor;top:296.6px;color:#12353c"><span>1.05159</span></div>
<div class="pl" style="top:409.2px;color:#fff"><span>0.00294</span></div>
<div class="fib">38.20%</div>
<div class="dt" style="left:12.4px">11</div><div class="dt" style="left:124.5px">18</div><div class="dt" style="left:235.5px">25</div><div class="dt b" style="left:343.1px">Oct</div><div class="dt" style="left:458px">9</div><div class="dt" style="left:569px">16</div><div class="dt" style="left:680.4px">23</div><div class="dt" style="left:747.2px">26</div><div class="dt b" style="left:836.1px">Nov</div>
</body></html>
